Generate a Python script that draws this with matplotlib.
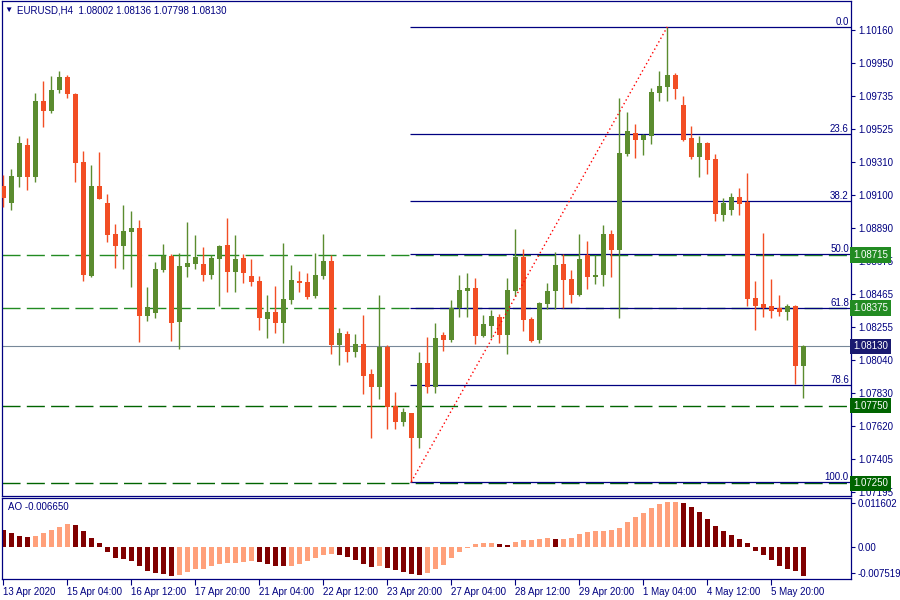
import matplotlib
matplotlib.use('Agg')
import matplotlib.pyplot as plt
import numpy as np

plt.rcParams['font.family'] = ['Liberation Sans', 'DejaVu Sans']
plt.rcParams['lines.scale_dashes'] = False

NAVY = '#000080'
BULL = '#5B8C2F'
BEAR = '#F24E24'
AO_UP = '#FFA07A'
AO_DOWN = '#800000'

symbol_header = 'EURUSD,H4  1.08002 1.08136 1.07798 1.08130'
ao_header = 'AO -0.006650'

# H4 candles
opens = [1.09159, 1.09052, 1.09219, 1.09422, 1.09219, 1.09704, 1.09642, 1.09775, 1.09858, 1.09749,
         1.09313, 1.08583, 1.09159, 1.09050, 1.08851, 1.08776, 1.08866, 1.08889, 1.08326, 1.08346,
         1.08622, 1.08712, 1.08288, 1.08641, 1.08660, 1.08658, 1.08590, 1.08692, 1.08780, 1.08609,
         1.08697, 1.08581, 1.08549, 1.08307, 1.08350, 1.08282, 1.08429, 1.08549, 1.08543, 1.08455,
         1.08583, 1.08677, 1.08140, 1.08209, 1.08095, 1.08145, 1.07952, 1.07871, 1.08127, 1.07747,
         1.07646, 1.07702, 1.07543, 1.08023, 1.07871, 1.08203, 1.08172, 1.08376, 1.08487, 1.08504,
         1.08196, 1.08262, 1.08318, 1.08205, 1.08487, 1.08703, 1.08305, 1.08172, 1.08403, 1.08487,
         1.08658, 1.08562, 1.08461, 1.08716, 1.08577, 1.08590, 1.08851, 1.08750, 1.09366, 1.09499,
         1.09456, 1.09482, 1.09758, 1.09796, 1.09871, 1.09679, 1.09467, 1.09347, 1.09435, 1.09332,
         1.08975, 1.09007, 1.09088, 1.09058, 1.08440, 1.08401, 1.08389, 1.08376, 1.08352, 1.08389,
         1.08002]
highs = [1.09229, 1.09268, 1.09480, 1.09467, 1.09756, 1.09833, 1.09865, 1.09897, 1.09871, 1.09756,
         1.09383, 1.09294, 1.09377, 1.09107, 1.08915, 1.09037, 1.08998, 1.08941, 1.08511, 1.08671,
         1.08787, 1.08722, 1.08729, 1.08928, 1.08844, 1.08767, 1.08716, 1.08780, 1.08953, 1.08844,
         1.08722, 1.08690, 1.08581, 1.08459, 1.08517, 1.08793, 1.08652, 1.08613, 1.08600, 1.08729,
         1.08851, 1.08716, 1.08247, 1.08228, 1.08209, 1.08331, 1.07984, 1.08459, 1.08138, 1.07837,
         1.07734, 1.07702, 1.08093, 1.08190, 1.08280, 1.08222, 1.08427, 1.08588, 1.08600, 1.08568,
         1.08331, 1.08363, 1.08337, 1.08568, 1.08883, 1.08754, 1.08318, 1.08414, 1.08536, 1.08735,
         1.08722, 1.08620, 1.08851, 1.08806, 1.08716, 1.08909, 1.08876, 1.09724, 1.09634, 1.09557,
         1.09493, 1.09788, 1.09897, 1.10180, 1.09884, 1.09736, 1.09544, 1.09480, 1.09441, 1.09364,
         1.09082, 1.09114, 1.09146, 1.09242, 1.08549, 1.08857, 1.08562, 1.08459, 1.08401, 1.08395,
         1.08136]
lows = [1.09026, 1.09005, 1.09154, 1.09135, 1.09186, 1.09539, 1.09629, 1.09758, 1.09725, 1.09186,
        1.08551, 1.08577, 1.09077, 1.08801, 1.08635, 1.08628, 1.08513, 1.08160, 1.08294, 1.08314,
        1.08609, 1.08166, 1.08115, 1.08577, 1.08628, 1.08551, 1.08564, 1.08391, 1.08480, 1.08480,
        1.08538, 1.08519, 1.08237, 1.08185, 1.08217, 1.08153, 1.08403, 1.08480, 1.08435, 1.08442,
        1.08564, 1.08083, 1.08012, 1.08031, 1.08063, 1.07826, 1.07543, 1.07794, 1.07601, 1.07601,
        1.07621, 1.07260, 1.07479, 1.07832, 1.07832, 1.08102, 1.08160, 1.08320, 1.08320, 1.08147,
        1.08190, 1.08183, 1.08153, 1.08083, 1.08455, 1.08230, 1.08160, 1.08153, 1.08371, 1.08371,
        1.08378, 1.08410, 1.08455, 1.08500, 1.08532, 1.08519, 1.08577, 1.08314, 1.09353, 1.09340,
        1.09360, 1.09430, 1.09706, 1.09706, 1.09719, 1.09450, 1.09334, 1.09219, 1.09238, 1.08936,
        1.08936, 1.08975, 1.08975, 1.08391, 1.08237, 1.08320, 1.08314, 1.08326, 1.08301, 1.07890,
        1.07798]
closes = [1.09084, 1.09223, 1.09435, 1.09219, 1.09704, 1.09642, 1.09775, 1.09858, 1.09751, 1.09308,
          1.08590, 1.09159, 1.09077, 1.08846, 1.08776, 1.08870, 1.08889, 1.08326, 1.08382, 1.08626,
          1.08712, 1.08282, 1.08645, 1.08665, 1.08703, 1.08590, 1.08697, 1.08774, 1.08609, 1.08690,
          1.08602, 1.08545, 1.08314, 1.08350, 1.08282, 1.08434, 1.08556, 1.08538, 1.08448, 1.08588,
          1.08677, 1.08140, 1.08215, 1.08095, 1.08145, 1.07941, 1.07871, 1.08127, 1.07742, 1.07646,
          1.07708, 1.07543, 1.08023, 1.07871, 1.08183, 1.08172, 1.08376, 1.08491, 1.08504, 1.08198,
          1.08273, 1.08325, 1.08205, 1.08491, 1.08703, 1.08301, 1.08166, 1.08408, 1.08485, 1.08652,
          1.08558, 1.08461, 1.08690, 1.08577, 1.08588, 1.08851, 1.08750, 1.09371, 1.09512, 1.09456,
          1.09486, 1.09762, 1.09801, 1.09871, 1.09783, 1.09456, 1.09347, 1.09435, 1.09328, 1.08981,
          1.09050, 1.09088, 1.09045, 1.08435, 1.08391, 1.08378, 1.08359, 1.08352, 1.08389, 1.08002,
          1.08130]

# Awesome Oscillator histogram
ao_values = [0.00397, 0.00321, 0.00252, 0.00229, 0.00252, 0.00321, 0.00390, 0.00459, 0.00527, 0.00504,
             0.00367, 0.00206, 0.00092, -0.00115, -0.00252, -0.00275, -0.00321, -0.00436, -0.00550, -0.00596,
             -0.00619, -0.00665, -0.00642, -0.00573, -0.00504, -0.00497, -0.00436, -0.00390, -0.00367, -0.00359,
             -0.00344, -0.00321, -0.00344, -0.00390, -0.00436, -0.00443, -0.00428, -0.00390, -0.00321, -0.00252,
             -0.00183, -0.00161, -0.00183, -0.00229, -0.00298, -0.00390, -0.00459, -0.00436, -0.00482, -0.00527,
             -0.00573, -0.00619, -0.00642, -0.00596, -0.00504, -0.00413, -0.00252, -0.00115, -0.00023, 0.00069,
             0.00092, 0.00099, 0.00069, 0.00046, 0.00115, 0.00161, 0.00168, 0.00183, 0.00206, 0.00183,
             0.00191, 0.00206, 0.00298, 0.00344, 0.00367, 0.00375, 0.00390, 0.00436, 0.00573, 0.00688,
             0.00780, 0.00894, 0.00986, 0.01032, 0.01039, 0.01009, 0.00917, 0.00803, 0.00642, 0.00482,
             0.00367, 0.00275, 0.00183, 0.00092, -0.00092, -0.00183, -0.00298, -0.00436, -0.00504, -0.00550,
             -0.00665]

price_ticks = [1.10160, 1.09950, 1.09735, 1.09525, 1.09310, 1.09100, 1.08890, 1.08675,
               1.08465, 1.08255, 1.08040, 1.07830, 1.07620, 1.07405, 1.07195]
time_labels = ['13 Apr 2020', '15 Apr 04:00', '16 Apr 12:00', '17 Apr 20:00', '21 Apr 04:00',
               '22 Apr 12:00', '23 Apr 20:00', '27 Apr 04:00', '28 Apr 12:00', '29 Apr 20:00',
               '1 May 04:00', '4 May 12:00', '5 May 20:00']
bars_per_label = 8

fib_levels = [0.0, 23.6, 38.2, 50.0, 61.8, 78.6, 100.0]
fib_low_bar = 51
fib_high_bar = 83

levels = [1.08715, 1.08375, 1.07750, 1.07250]
level_colors = ['#228B22', '#228B22', '#006400', '#006400']
current_price = 1.08130

ao_tick_labels = ['0.011602', '0.00', '-0.007519']

# ---- layout in pixels ----
fig = plt.figure(figsize=(9, 6), dpi=100)
W, H = 900, 600
ax = fig.add_axes([2 / W, 1 - 495.5 / H, 849 / W, 494.5 / H])
ao_ax = fig.add_axes([2 / W, 1 - 578.5 / H, 849 / W, 81 / H])

n = len(opens)
x = np.arange(n)
o, h, l, c = map(np.array, (opens, highs, lows, closes))
up = c >= o
colors = np.where(up, BULL, BEAR)

ax.vlines(x, l, h, colors=colors, linewidth=1.0, zorder=3)
body_low = np.minimum(o, c)
body_h = np.maximum(np.abs(c - o), 0.00007)
ax.bar(x, body_h, bottom=body_low, width=0.625, color=colors, linewidth=0, zorder=4)

# horizontal levels with their price tags
for lv, col in zip(levels, level_colors):
    ax.axhline(lv, color=col, linewidth=1.0, dashes=(13, 4.5), zorder=2)
    ax.text(1.0025, lv, f'{lv:.5f}', transform=ax.get_yaxis_transform(), ha='left', va='center',
            fontsize=7, color='white', zorder=6,
            bbox=dict(boxstyle='square,pad=0.28', fc=col, ec='none'))

ax.axhline(current_price, color='#778899', linewidth=0.8, zorder=2)
ax.text(1.0025, current_price, f'{current_price:.5f}', transform=ax.get_yaxis_transform(),
        ha='left', va='center', fontsize=7, color='white', zorder=6,
        bbox=dict(boxstyle='square,pad=0.28', fc='#191970', ec='none'))

# fibonacci retracement
fib_hi = highs[fib_high_bar]
fib_lo = lows[fib_low_bar]
xmax = (851 - 3.3) / 8
for lvl in fib_levels:
    p = fib_hi - (fib_hi - fib_lo) * lvl / 100
    ax.hlines(p, fib_low_bar - 0.2, xmax, color=NAVY, linewidth=0.9, zorder=2)
    ax.text(0.9975, p, f'{lvl:.1f}', transform=ax.get_yaxis_transform(), ha='right', va='bottom',
            fontsize=7, color=NAVY, zorder=6)
ax.plot([fib_low_bar, fib_high_bar], [fib_lo, fib_hi], color='red', linewidth=1.0,
        linestyle=(0, (1, 2)), zorder=5)

ax.set_xlim((2 - 3.3) / 8, xmax)
ax.set_ylim(1.103525 - 495.5 * 0.000064177, 1.103525 - 1 * 0.000064177)
ax.set_xticks([])
ax.yaxis.tick_right()
ax.set_yticks(price_ticks)
ax.set_yticklabels([f'{t:.5f}' for t in price_ticks])
ax.tick_params(axis='y', length=3, width=0.8, color=NAVY, labelcolor=NAVY, labelsize=7, pad=2)
for s in ax.spines.values():
    s.set_color(NAVY)
    s.set_linewidth(0.9)

# awesome oscillator
ao = np.array(ao_values)
ao_colors = [AO_DOWN] + [AO_UP if ao[i] > ao[i - 1] else AO_DOWN for i in range(1, n)]
ao_ax.bar(x, ao, width=0.65, color=ao_colors, linewidth=0)
ao_ax.set_xlim((2 - 3.3) / 8, xmax)
ao_ax.set_ylim(-0.00722, 0.01135)
ao_ax.yaxis.tick_right()
ao_ax.set_yticks([0.01009, 0.0, -0.00596])
ao_ax.set_yticklabels(ao_tick_labels)
ao_ax.tick_params(axis='y', length=3, width=0.8, color=NAVY, labelcolor=NAVY, labelsize=7, pad=2)
ao_ax.set_xticks(np.arange(len(time_labels)) * bars_per_label)
ao_ax.set_xticklabels(time_labels)
for lab in ao_ax.get_xticklabels():
    lab.set_ha('left')
ao_ax.tick_params(axis='x', length=4, width=0.8, color=NAVY, labelcolor=NAVY, labelsize=7, pad=2)
for s in ao_ax.spines.values():
    s.set_color(NAVY)
    s.set_linewidth(0.9)

fig.text(8 / W, 1 - 10 / H, '▼', fontsize=6, color=NAVY, ha='center', va='center')
fig.text(17 / W, 1 - 10.5 / H, symbol_header, fontsize=7, color=NAVY, ha='left', va='center')
fig.text(8 / W, 1 - 507 / H, ao_header, fontsize=7, color=NAVY, ha='left', va='center')

fig.savefig('out.png', dpi=100, facecolor='white')
